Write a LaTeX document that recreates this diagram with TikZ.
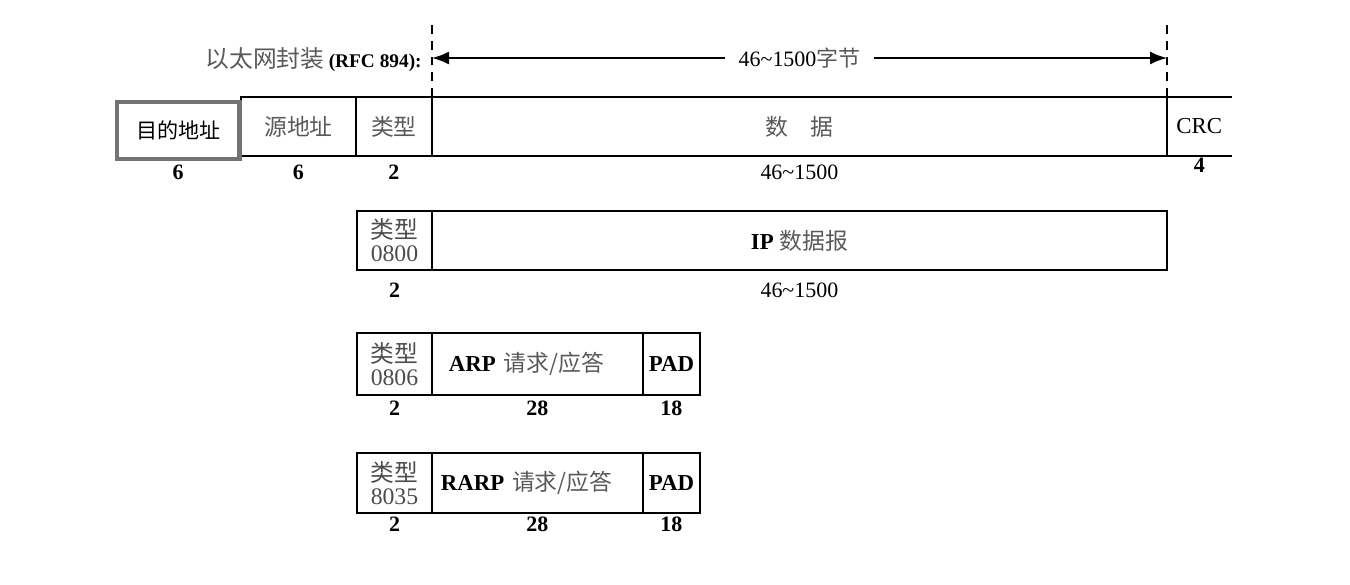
\documentclass[tikz,border=0pt]{standalone}
\usepackage{fontspec}
\setmainfont{Liberation Serif}
\newfontfamily\cjk{Noto Sans CJK SC}
\usetikzlibrary{positioning,arrows.meta}
\begin{document}
\begin{tikzpicture}[x=0.02cm, y=-0.02cm,
  field/.style={draw, line width=1pt, inner sep=0pt, outer sep=0pt, minimum height=1.18cm,
                align=center, font=\fontsize{13}{13}\selectfont},
  typ/.style={field, minimum width=1.5cm, text=black!70,
              font=\fontsize{13.5}{13}\selectfont},
  size/.style={font=\bfseries\fontsize{12.5}{14}\selectfont, inner sep=1pt},
  zh/.style={text=black!65},
  arr/.style={{Latex[length=3.4mm,width=2.6mm]}-{Latex[length=3.4mm,width=2.6mm]},
              line width=1pt}]
\useasboundingbox (0,0) rectangle (1350,585);
% Ethernet frame
\node[field, zh, minimum width=2.3cm, anchor=north west] (src) at (241,97) {\cjk 源地址};
\node[field, zh, minimum width=1.52cm, right=0pt of src] (type) {\cjk 类型};
\node[field, zh, minimum width=14.7cm, right=0pt of type] (data) {\cjk 数\quad 据};
\node[field, draw=none, minimum width=1.3cm, right=0pt of data] (crc) {CRC};
\draw[line width=1pt] (crc.north west) -- (crc.north east)
                      (crc.south west) -- (crc.south east);
\node[field, draw=black!55, line width=2.6pt, minimum width=2.45cm, minimum height=1.14cm,
      font=\fontsize{12}{12}\selectfont, anchor=north west] (dst) at (117,102) {\cjk 目的地址};
\node[size, below=4pt of src] (n-src) {6};
\node[size] (n-dst) at (dst |- n-src) {6};
\node[size, below=4pt of type] (n-type) {2};
\node[size, font=\fontsize{12.5}{14}\selectfont, below=4pt of data] (n-data) {46\textasciitilde1500};
\node[size, below=0pt of crc] (n-crc) {4};
% 46~1500 span
\coordinate (ltop) at (432,25);
\coordinate (al) at (432,58);
\coordinate (ar) at (1167,58);
\draw[line width=1pt, dash pattern=on 5pt off 4pt] (data.north west) -- (data.north west |- ltop);
\draw[line width=1pt, dash pattern=on 5pt off 4pt] (data.north east) -- (data.north east |- ltop);
\draw[arr] (al) -- node[fill=white, inner xsep=8pt, font=\fontsize{12.5}{14}\selectfont] (span)
  {46\textasciitilde1500{\cjk\color{black!65}字节}} (ar);
\node[anchor=east, inner sep=0pt] (title) at (422,60)
  {{\cjk\color{black!65}\fontsize{13.5}{14}\selectfont 以太网封装} \textbf{\fontsize{11}{12}\selectfont(RFC 894):}};
% IP datagram
\node[typ, anchor=north west] (t0800) at (357,211) {{\cjk 类型}\\0800};
\node[field, minimum width=14.7cm, right=0pt of t0800] (ip) {\textbf{IP} {\cjk\color{black!65}数据报}};
\node[size, below=6pt of t0800] (n-t0800) {2};
\node[size, font=\fontsize{12.5}{14}\selectfont, below=6pt of ip] (n-ip) {46\textasciitilde1500};
% ARP request/reply
\node[typ, minimum height=1.24cm, anchor=north west] (t0806) at (357,333) {{\cjk 类型}\\0806};
\node[field, minimum height=1.24cm, minimum width=4.22cm, text width=3.54cm, align=left,
      right=0pt of t0806] (arp) {\textbf{ARP} {\cjk\color{black!65}请求/应答}};
\node[field, minimum height=1.24cm, minimum width=1.14cm, right=0pt of arp] (pad1) {\textbf{PAD}};
\node[size, below=2pt of t0806] (n-t0806) {2};
\node[size, below=2pt of arp] (n-arp) {28};
\node[size, below=2pt of pad1] (n-pad1) {18};
% RARP request/reply
\node[typ, minimum height=1.2cm, anchor=north west] (t8035) at (357,453) {{\cjk 类型}\\8035};
\node[field, minimum height=1.2cm, minimum width=4.22cm, text width=3.86cm, align=left,
      right=0pt of t8035] (rarp) {\textbf{RARP} {\cjk\color{black!65}请求/应答}};
\node[field, minimum height=1.2cm, minimum width=1.14cm, right=0pt of rarp] (pad2) {\textbf{PAD}};
\node[size, below=1pt of t8035] (n-t8035) {2};
\node[size, below=1pt of rarp] (n-rarp) {28};
\node[size, below=1pt of pad2] (n-pad2) {18};
\end{tikzpicture}
\end{document}
